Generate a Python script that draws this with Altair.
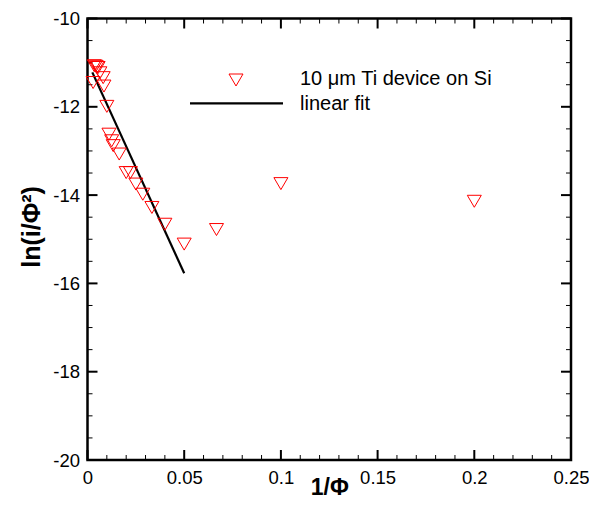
import altair as alt
import pandas as pd

# ---- data ----
inv_phi = [0.0035, 0.0042, 0.0050, 0.0055, 0.0064, 0.0081, 0.0029, 0.0085,
           0.0100, 0.0111, 0.0125, 0.0133, 0.0164, 0.0200, 0.0222, 0.0250,
           0.0286, 0.0333, 0.0400, 0.0500, 0.0667, 0.1000, 0.2000]
ln_i_phi2 = [-11.07, -11.08, -11.10, -11.11, -11.23, -11.34, -11.45, -11.53,
             -11.99, -12.62, -12.77, -12.88, -13.07, -13.49, -13.49, -13.75,
             -13.98, -14.28, -14.66, -15.11, -14.78, -13.74, -14.14]
fit_x = [0.0025, 0.0500]
fit_y = [-11.22, -15.77]

legend_labels = ["10 \u03bcm Ti device on Si", "linear fit"]

x_major = [0, 0.05, 0.1, 0.15, 0.2, 0.25]
y_major = [-20, -18, -16, -14, -12, -10]
x_minor = [round(i * 0.01, 2) for i in range(26) if i % 5]
y_minor = [-20 + 0.5 * i for i in range(21) if i % 4]

# ---- styling ----
W, H = 483.5, 441.5
FONT = "Liberation Sans"
RED = "#ff0000"
TRI = "M-1,-0.857L1,-0.857L0,0.857Z"
MAJ, MIN = 10, 5

xs = alt.Scale(domain=[0, 0.25], nice=False, zero=False)
ys = alt.Scale(domain=[-20, -10], nice=False, zero=False)

x_axis = alt.Axis(values=x_major, labelExpr="'' + datum.value", ticks=False,
                  domain=False, grid=False, labelFontSize=18.5, labelFont=FONT,
                  labelColor="black", labelPadding=8, labelFlush=False,
                  title="1/\u03a6", titleFontSize=23, titleFont=FONT,
                  titleFontWeight="bold", titleColor="black",
                  titleBaseline="alphabetic", titleY=34)
y_axis = alt.Axis(values=y_major, labelExpr="'' + datum.value", ticks=False,
                  domain=False, grid=False, labelFontSize=18.5, labelFont=FONT,
                  labelColor="black", labelPadding=8, labelFlush=False,
                  title="ln(i/\u03a6\u00b2)", titleFontSize=25, titleFont=FONT,
                  titleFontWeight="bold", titleColor="black", titleAngle=-90,
                  titleBaseline="alphabetic", titleAlign="center",
                  titleX=-48, titleY=208)

pts = alt.Chart(pd.DataFrame({"x": inv_phi, "y": ln_i_phi2})).mark_point(
    shape=TRI, size=196, filled=False, color=RED, strokeWidth=1, opacity=1
).encode(
    x=alt.X("x:Q", scale=xs, axis=x_axis),
    y=alt.Y("y:Q", scale=ys, axis=y_axis),
)

fit = alt.Chart(pd.DataFrame({"x": fit_x, "y": fit_y})).mark_line(
    color="black", strokeWidth=2.2
).encode(x=alt.X("x:Q", scale=xs), y=alt.Y("y:Q", scale=ys))


def xticks(vals, length, sw):
    df = pd.DataFrame({"x": vals})
    base = alt.Chart(df).mark_rule(color="black", strokeWidth=sw)
    bottom = base.encode(x=alt.X("x:Q", scale=xs), y=alt.value(H), y2=alt.value(H - length))
    top = base.encode(x=alt.X("x:Q", scale=xs), y=alt.value(0), y2=alt.value(length))
    return [bottom, top]


def yticks(vals, length, sw):
    df = pd.DataFrame({"y": vals})
    base = alt.Chart(df).mark_rule(color="black", strokeWidth=sw)
    left = base.encode(y=alt.Y("y:Q", scale=ys), x=alt.value(0), x2=alt.value(length))
    right = base.encode(y=alt.Y("y:Q", scale=ys), x=alt.value(W), x2=alt.value(W - length))
    return [left, right]


tick_layers = (xticks(x_major, MAJ, 2) + xticks(x_minor, MIN, 1)
               + yticks(y_major, MAJ, 2) + yticks(y_minor, MIN, 1))

# ---- legend ----
leg_sym = alt.Chart(pd.DataFrame({"t": [legend_labels[0]]})).mark_point(
    shape=TRI, size=196, filled=False, color=RED, strokeWidth=1, opacity=1
).encode(x=alt.value(148.5), y=alt.value(61.5))
leg_line = alt.Chart(pd.DataFrame({"t": [legend_labels[1]]})).mark_rule(
    color="black", strokeWidth=2.2
).encode(x=alt.value(102.5), x2=alt.value(195.5), y=alt.value(84.8))
leg_t1 = alt.Chart(pd.DataFrame({"t": [legend_labels[0]]})).mark_text(
    align="left", baseline="alphabetic", fontSize=20, font=FONT, color="black"
).encode(text="t:N", x=alt.value(212.5), y=alt.value(66.5))
leg_t2 = alt.Chart(pd.DataFrame({"t": [legend_labels[1]]})).mark_text(
    align="left", baseline="alphabetic", fontSize=20, font=FONT, color="black"
).encode(text="t:N", x=alt.value(212.5), y=alt.value(91.5))

chart = alt.layer(
    *tick_layers, fit, pts, leg_sym, leg_line, leg_t1, leg_t2
).properties(
    width=W, height=H,
    autosize=alt.AutoSizeParams(type="none"),
    padding={"left": 79.5, "top": 10.5, "right": 18, "bottom": 40},
    background="white",
).configure_view(stroke="black", strokeWidth=2.5)

chart.save("out.html", embed_options={"renderer": "svg", "actions": False})
